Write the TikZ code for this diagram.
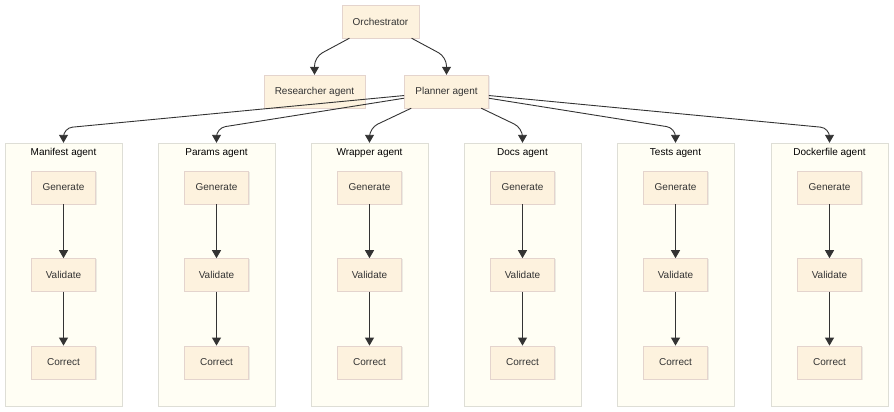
\documentclass[tikz,border=0pt]{standalone}
\usepackage{fontspec}
\setmainfont{Liberation Sans}
\usetikzlibrary{arrows.meta,positioning,shadows}
\definecolor{nodefill}{RGB}{253,242,222}
\definecolor{nodeline}{RGB}{228,212,205}
\definecolor{groupfill}{RGB}{255,254,244}
\definecolor{groupline}{RGB}{222,222,214}
\definecolor{ink}{RGB}{51,51,51}

\begin{document}
\begin{tikzpicture}[x=1pt, y=-1pt, >={Triangle[width=9pt,length=8pt]},
  box/.style={draw=nodeline, fill=nodefill, minimum width=64pt, minimum height=33pt, inner xsep=11pt,
    font=\fontsize{10}{12}\selectfont, text=ink, drop shadow={shadow xshift=1pt, shadow yshift=-1pt, opacity=0.15}},
  group/.style={draw=groupline, fill=groupfill, minimum width=117pt, minimum height=263pt,
    drop shadow={shadow xshift=1pt, shadow yshift=-1pt, opacity=0.12}},
  title/.style={font=\fontsize{10}{12}\selectfont, text=black},
  edge/.style={->, draw=ink, line width=0.9pt},
  node distance=54pt]
  \useasboundingbox (0,0) rectangle (894,412);
  \coordinate (upbend) at (0,57);
  \coordinate (lowbend) at (0,128);
  \node[box] (orch) at (380.5,21.5) {Orchestrator};
  \node[box] (res) at (314.5,91.5) {Researcher agent};
  \node[box] (plan) at (446.5,91.5) {Planner agent};
  \draw[edge, rounded corners=9pt] (orch) -- (res.north |- upbend) -- (res.north);
  \draw[edge, rounded corners=9pt] (orch) -- (plan.north |- upbend) -- (plan.north);
  % one column per sub-agent
  \foreach \name/\lbl/\x in {man/Manifest agent/63.5, par/Params agent/216.5, wra/Wrapper agent/369.5,
      doc/Docs agent/522.5, tes/Tests agent/675.5, dock/Dockerfile agent/829.5} {
    \node[group] (\name) at (\x,274.5) {};
    \node[title, below=2pt of \name.north] (\name-title) {\lbl};
    \node[box] (\name-gen) at (\x,187.5) {Generate};
    \node[box, below=of \name-gen] (\name-val) {Validate};
    \node[box, below=of \name-val] (\name-cor) {Correct};
    \draw[edge] (\name-gen) -- (\name-val);
    \draw[edge] (\name-val) -- (\name-cor);
    \draw[edge, rounded corners=9pt] (plan) -- (\name.north |- lowbend) -- (\name.north);
  }
\end{tikzpicture}
\end{document}
